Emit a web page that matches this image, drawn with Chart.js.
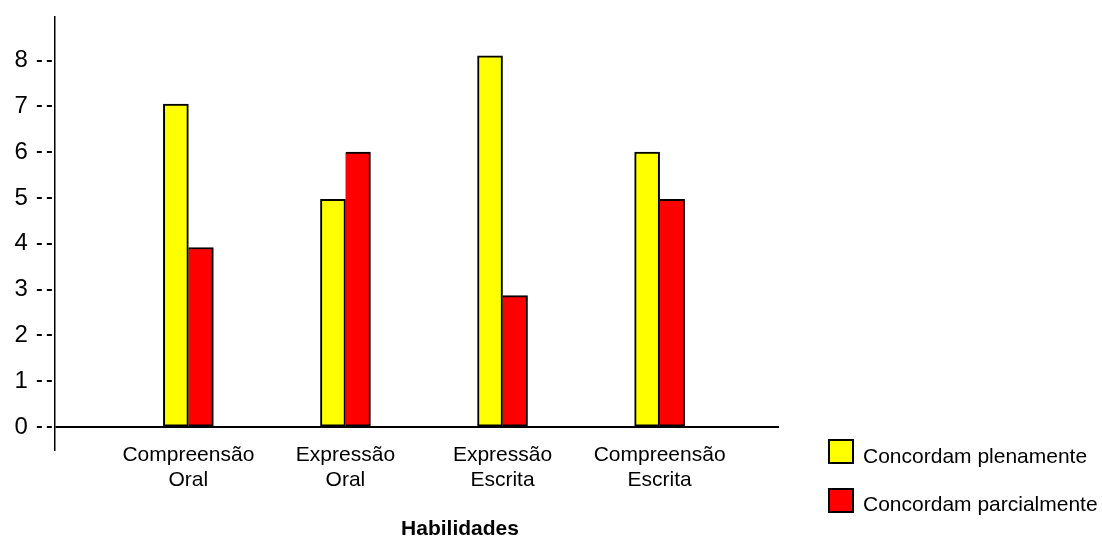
<!DOCTYPE html>
<html>
<head>
<meta charset="utf-8">
<script src="https://cdn.jsdelivr.net/npm/chart.js@4.4.1/dist/chart.umd.min.js"></script>
<style>
  body { margin: 0; background: #fff; }
  #wrap { position: relative; width: 1102px; height: 536px; font-family: "Liberation Sans", Arial, sans-serif; color: #000; }
  #chart { position: absolute; left: 0; top: 0; }
  .box { position: absolute; left: 828px; width: 26px; height: 25px; box-sizing: border-box; border: 2px solid #000; }
  .lbl { position: absolute; left: 863px; font-size: 21px; line-height: 21px; white-space: nowrap; }
  #xtitle { position: absolute; left: 360px; width: 200px; top: 517px; text-align: center; font-size: 21px; line-height: 21px; font-weight: bold; }
</style>
</head>
<body>
<div id="wrap">
  <canvas id="chart" width="1102" height="536"></canvas>
  <div id="legend"></div>
  <div id="xtitle"></div>
</div>
<script>
// data
const categories = ['Compreensão Oral', 'Expressão Oral', 'Expressão Escrita', 'Compreensão Escrita'];
const seriesNames = ['Concordam plenamente', 'Concordam parcialmente'];
const plenamente = [7.05, 4.97, 8.1, 6.0];
const parcialmente = [3.92, 6.0, 2.87, 4.97];
const yTicks = [0, 1, 2, 3, 4, 5, 6, 7, 8];
const xTitle = 'Habilidades';

const colors = ['#FFFF00', '#FF0000'];
const font = '"Liberation Sans", Arial, sans-serif';

function points(values) {
    return values.map((v, i) => ({ x: i, y: v }));
}

const chart = new Chart(document.getElementById('chart'), {
    type: 'bar',
    data: {
        datasets: [{
            label: seriesNames[0],
            data: points(plenamente),
            backgroundColor: colors[0],
            borderColor: '#000',
            borderWidth: 2,
            borderSkipped: false,
            barThickness: 25
        }, {
            label: seriesNames[1],
            data: points(parcialmente),
            backgroundColor: colors[1],
            borderColor: '#000',
            borderWidth: 2,
            borderSkipped: 'left',
            barThickness: 25
        }]
    },
    options: {
        responsive: false,
        animation: false,
        layout: { padding: { top: 17, left: 5.5, right: 323, bottom: 86 } },
        plugins: {
            legend: { display: false },
            tooltip: { enabled: false }
        },
        scales: {
            x: {
                type: 'linear',
                position: { y: -0.5 },
                offset: false,
                min: -0.85,
                max: 3.76,
                afterBuildTicks: (scale) => { scale.ticks = categories.map((c, i) => ({ value: i })); },
                grid: { display: false, drawTicks: false },
                border: { display: false },
                ticks: {
                    autoSkip: false,
                    maxRotation: 0,
                    padding: -7.6,
                    color: '#000',
                    font: { family: font, size: 21, lineHeight: 1.2 },
                    callback: (v) => categories[v] ? categories[v].split(' ') : ''
                }
            },
            y: {
                type: 'linear',
                position: 'left',
                min: -0.5,
                max: 8.95,
                afterBuildTicks: (scale) => { scale.ticks = yTicks.map(v => ({ value: v })); },
                grid: {
                    drawOnChartArea: true,
                    drawTicks: true,
                    tickLength: 18,
                    tickBorderDash: [5, 5],
                    tickColor: '#000',
                    tickWidth: 2,
                    color: (ctx) => ctx.tick && ctx.tick.value === 0 ? '#000' : 'rgba(0,0,0,0)',
                    lineWidth: 2
                },
                border: { display: true, color: '#000', width: 1.5 },
                ticks: {
                    padding: 9,
                    color: '#000',
                    font: { family: font, size: 24, lineHeight: 0.66 }
                }
            }
        }
    }
});

// legend and axis title
const legend = document.getElementById('legend');
seriesNames.forEach((name, i) => {
    const top = 439 + i * 48.5;
    const box = document.createElement('div');
    box.className = 'box';
    box.style.top = top + 'px';
    box.style.background = colors[i];
    const lbl = document.createElement('div');
    lbl.className = 'lbl';
    lbl.style.top = (top + 5.7) + 'px';
    lbl.textContent = name;
    legend.appendChild(box);
    legend.appendChild(lbl);
});
document.getElementById('xtitle').textContent = xTitle;
</script>
</body>
</html>
